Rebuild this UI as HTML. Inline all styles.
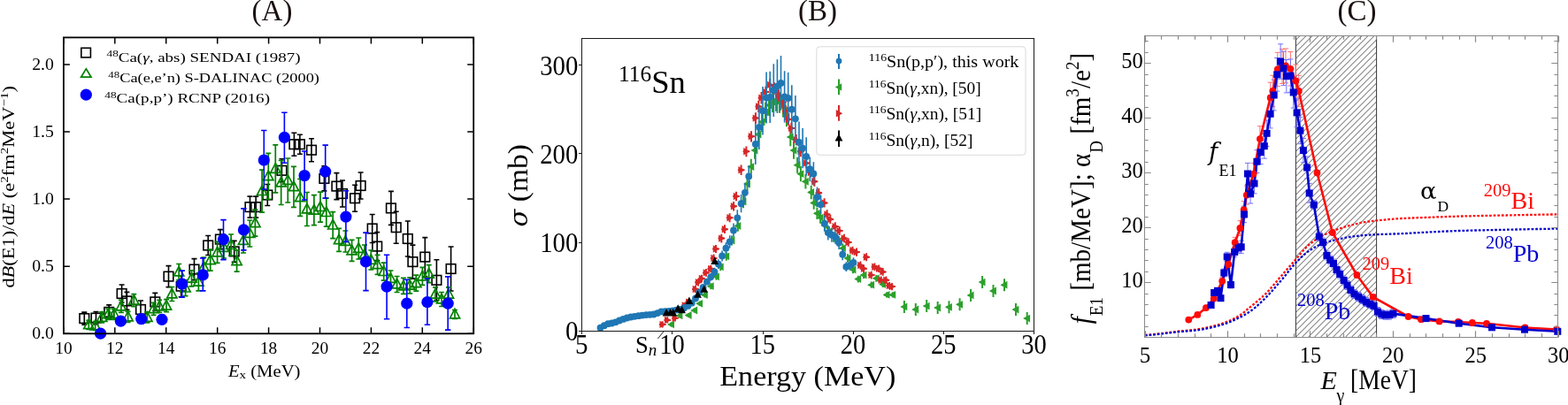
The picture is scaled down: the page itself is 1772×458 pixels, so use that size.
<!DOCTYPE html>
<html><head><meta charset="utf-8"><title>figure</title>
<style>html,body{margin:0;padding:0;background:#fff;}svg{display:block;}</style></head>
<body><svg width="1772" height="458" viewBox="0 0 1772 458">
<rect width="1772" height="458" fill="#fff"/>
<g stroke="#000" stroke-width="1.6" fill="none">
<path d="M95.3 353.1V367.1M92.3 353.1h6M92.3 367.1h6"/>
<rect x="90.0" y="354.8" width="10.6" height="10.6"/>
<path d="M108.5 352.6V366.6M105.5 352.6h6M105.5 366.6h6"/>
<rect x="103.2" y="354.3" width="10.6" height="10.6"/>
<path d="M123.2 344.9V360.9M120.2 344.9h6M120.2 360.9h6"/>
<rect x="117.9" y="347.6" width="10.6" height="10.6"/>
<path d="M137.6 322.0V342.0M134.6 322.0h6M134.6 342.0h6"/>
<rect x="132.3" y="326.7" width="10.6" height="10.6"/>
<path d="M143.4 330.4V350.4M140.4 330.4h6M140.4 350.4h6"/>
<rect x="138.1" y="335.1" width="10.6" height="10.6"/>
<path d="M159.0 340.0V360.0M156.0 340.0h6M156.0 360.0h6"/>
<rect x="153.7" y="344.7" width="10.6" height="10.6"/>
<path d="M175.3 331.4V351.4M172.3 331.4h6M172.3 351.4h6"/>
<rect x="170.0" y="336.1" width="10.6" height="10.6"/>
<path d="M190.5 300.6V324.6M187.5 300.6h6M187.5 324.6h6"/>
<rect x="185.2" y="307.3" width="10.6" height="10.6"/>
<path d="M204.7 311.7V335.7M201.7 311.7h6M201.7 335.7h6"/>
<rect x="199.4" y="318.4" width="10.6" height="10.6"/>
<path d="M219.5 292.6V316.6M216.5 292.6h6M216.5 316.6h6"/>
<rect x="214.2" y="299.3" width="10.6" height="10.6"/>
<path d="M235.2 266.5V288.5M232.2 266.5h6M232.2 288.5h6"/>
<rect x="229.9" y="272.2" width="10.6" height="10.6"/>
<path d="M248.9 259.6V281.6M245.9 259.6h6M245.9 281.6h6"/>
<rect x="243.6" y="265.3" width="10.6" height="10.6"/>
<path d="M264.7 272.4V296.4M261.7 272.4h6M261.7 296.4h6"/>
<rect x="259.4" y="279.1" width="10.6" height="10.6"/>
<path d="M282.5 222.1V246.1M279.5 222.1h6M279.5 246.1h6"/>
<rect x="277.2" y="228.8" width="10.6" height="10.6"/>
<path d="M289.2 222.1V246.1M286.2 222.1h6M286.2 246.1h6"/>
<rect x="283.9" y="228.8" width="10.6" height="10.6"/>
<path d="M302.3 208.5V232.5M299.3 208.5h6M299.3 232.5h6"/>
<rect x="297.0" y="215.2" width="10.6" height="10.6"/>
<path d="M318.5 179.8V205.8M315.5 179.8h6M315.5 205.8h6"/>
<rect x="313.2" y="187.5" width="10.6" height="10.6"/>
<path d="M332.4 150.2V176.2M329.4 150.2h6M329.4 176.2h6"/>
<rect x="327.1" y="157.9" width="10.6" height="10.6"/>
<path d="M338.9 152.2V174.2M335.9 152.2h6M335.9 174.2h6"/>
<rect x="333.6" y="157.9" width="10.6" height="10.6"/>
<path d="M352.0 156.7V182.7M349.0 156.7h6M349.0 182.7h6"/>
<rect x="346.7" y="164.4" width="10.6" height="10.6"/>
<path d="M366.4 187.9V215.9M363.4 187.9h6M363.4 215.9h6"/>
<rect x="361.1" y="196.6" width="10.6" height="10.6"/>
<path d="M380.4 195.6V225.6M377.4 195.6h6M377.4 225.6h6"/>
<rect x="375.1" y="205.3" width="10.6" height="10.6"/>
<path d="M387.0 204.0V234.0M384.0 204.0h6M384.0 234.0h6"/>
<rect x="381.7" y="213.7" width="10.6" height="10.6"/>
<path d="M401.1 209.2V239.2M398.1 209.2h6M398.1 239.2h6"/>
<rect x="395.8" y="218.9" width="10.6" height="10.6"/>
<path d="M407.6 195.0V225.0M404.6 195.0h6M404.6 225.0h6"/>
<rect x="402.3" y="204.7" width="10.6" height="10.6"/>
<path d="M420.7 242.5V274.5M417.7 242.5h6M417.7 274.5h6"/>
<rect x="415.4" y="253.2" width="10.6" height="10.6"/>
<path d="M426.2 262.6V294.6M423.2 262.6h6M423.2 294.6h6"/>
<rect x="420.9" y="273.3" width="10.6" height="10.6"/>
<path d="M441.9 216.4V254.4M438.9 216.4h6M438.9 254.4h6"/>
<rect x="436.6" y="230.1" width="10.6" height="10.6"/>
<path d="M447.7 239.2V275.2M444.7 239.2h6M444.7 275.2h6"/>
<rect x="442.4" y="251.9" width="10.6" height="10.6"/>
<path d="M460.8 250.0V290.0M457.8 250.0h6M457.8 290.0h6"/>
<rect x="455.5" y="264.7" width="10.6" height="10.6"/>
<path d="M466.4 277.1V315.1M463.4 277.1h6M463.4 315.1h6"/>
<rect x="461.1" y="290.8" width="10.6" height="10.6"/>
<path d="M480.3 268.6V312.6M477.3 268.6h6M477.3 312.6h6"/>
<rect x="475.0" y="285.3" width="10.6" height="10.6"/>
<path d="M493.4 293.8V339.8M490.4 293.8h6M490.4 339.8h6"/>
<rect x="488.1" y="311.5" width="10.6" height="10.6"/>
<path d="M509.6 279.0V329.0M506.6 279.0h6M506.6 329.0h6"/>
<rect x="504.3" y="298.7" width="10.6" height="10.6"/>
</g>
<g stroke="#008000" stroke-width="1.7" fill="none">
<path d="M100.3 362.3V372.3M97.3 362.3h6M97.3 372.3h6"/>
<path d="M100.3 361.1L105.9 371.7H94.7Z"/>
<path d="M107.6 363.5V373.5M104.6 363.5h6M104.6 373.5h6"/>
<path d="M107.6 362.3L113.2 372.9H102.0Z"/>
<path d="M115.2 352.9V364.9M112.2 352.9h6M112.2 364.9h6"/>
<path d="M115.2 352.7L120.8 363.3H109.6Z"/>
<path d="M122.4 349.3V361.3M119.4 349.3h6M119.4 361.3h6"/>
<path d="M122.4 349.1L128.0 359.7H116.8Z"/>
<path d="M128.9 349.3V361.3M125.9 349.3h6M125.9 361.3h6"/>
<path d="M128.9 349.1L134.5 359.7H123.3Z"/>
<path d="M136.9 339.4V353.4M133.9 339.4h6M133.9 353.4h6"/>
<path d="M136.9 340.2L142.5 350.8H131.3Z"/>
<path d="M144.6 352.4V364.4M141.6 352.4h6M141.6 364.4h6"/>
<path d="M144.6 352.2L150.2 362.8H139.0Z"/>
<path d="M151.3 332.7V346.7M148.3 332.7h6M148.3 346.7h6"/>
<path d="M151.3 333.5L156.9 344.1H145.7Z"/>
<path d="M166.4 352.9V364.9M163.4 352.9h6M163.4 364.9h6"/>
<path d="M166.4 352.7L172.0 363.3H160.8Z"/>
<path d="M173.6 342.3V356.3M170.6 342.3h6M170.6 356.3h6"/>
<path d="M173.6 343.1L179.2 353.7H168.0Z"/>
<path d="M180.1 339.4V353.4M177.1 339.4h6M177.1 353.4h6"/>
<path d="M180.1 340.2L185.7 350.8H174.5Z"/>
<path d="M188.0 338.7V352.7M185.0 338.7h6M185.0 352.7h6"/>
<path d="M188.0 339.5L193.6 350.1H182.4Z"/>
<path d="M194.3 324.5V340.5M191.3 324.5h6M191.3 340.5h6"/>
<path d="M194.3 326.3L199.9 336.9H188.7Z"/>
<path d="M202.2 298.5V316.5M199.2 298.5h6M199.2 316.5h6"/>
<path d="M202.2 301.3L207.8 311.9H196.6Z"/>
<path d="M209.6 316.6V334.6M206.6 316.6h6M206.6 334.6h6"/>
<path d="M209.6 319.4L215.2 330.0H204.0Z"/>
<path d="M216.5 305.8V323.8M213.5 305.8h6M213.5 323.8h6"/>
<path d="M216.5 308.6L222.1 319.2H210.9Z"/>
<path d="M224.4 308.8V328.8M221.4 308.8h6M221.4 328.8h6"/>
<path d="M224.4 312.6L230.0 323.2H218.8Z"/>
<path d="M230.3 291.0V313.0M227.3 291.0h6M227.3 313.0h6"/>
<path d="M230.3 295.8L235.9 306.4H224.7Z"/>
<path d="M237.7 282.2V306.2M234.7 282.2h6M234.7 306.2h6"/>
<path d="M237.7 288.0L243.3 298.6H232.1Z"/>
<path d="M245.6 273.4V297.4M242.6 273.4h6M242.6 297.4h6"/>
<path d="M245.6 279.2L251.2 289.8H240.0Z"/>
<path d="M253.0 268.0V292.0M250.0 268.0h6M250.0 292.0h6"/>
<path d="M253.0 273.8L258.6 284.4H247.4Z"/>
<path d="M261.1 265.0V289.0M258.1 265.0h6M258.1 289.0h6"/>
<path d="M261.1 270.8L266.7 281.4H255.5Z"/>
<path d="M267.6 283.2V307.2M264.6 283.2h6M264.6 307.2h6"/>
<path d="M267.6 289.0L273.2 299.6H262.0Z"/>
<path d="M275.0 258.0V286.0M272.0 258.0h6M272.0 286.0h6"/>
<path d="M275.0 265.8L280.6 276.4H269.4Z"/>
<path d="M282.3 249.0V279.0M279.3 249.0h6M279.3 279.0h6"/>
<path d="M282.3 257.8L287.9 268.4H276.7Z"/>
<path d="M288.4 237.2V267.2M285.4 237.2h6M285.4 267.2h6"/>
<path d="M288.4 246.0L294.0 256.6H282.8Z"/>
<path d="M296.1 192.1V240.1M293.1 192.1h6M293.1 240.1h6"/>
<path d="M296.1 209.9L301.7 220.5H290.5Z"/>
<path d="M303.3 173.3V225.3M300.3 173.3h6M300.3 225.3h6"/>
<path d="M303.3 193.1L308.9 203.7H297.7Z"/>
<path d="M311.3 163.9V217.9M308.3 163.9h6M308.3 217.9h6"/>
<path d="M311.3 184.7L316.9 195.3H305.7Z"/>
<path d="M317.7 181.5V231.5M314.7 181.5h6M314.7 231.5h6"/>
<path d="M317.7 200.3L323.3 210.9H312.1Z"/>
<path d="M325.3 179.0V229.0M322.3 179.0h6M322.3 229.0h6"/>
<path d="M325.3 197.8L330.9 208.4H319.7Z"/>
<path d="M332.0 188.3V234.3M329.0 188.3h6M329.0 234.3h6"/>
<path d="M332.0 205.1L337.6 215.7H326.4Z"/>
<path d="M339.2 202.3V244.3M336.2 202.3h6M336.2 244.3h6"/>
<path d="M339.2 217.1L344.8 227.7H333.6Z"/>
<path d="M346.9 217.5V255.5M343.9 217.5h6M343.9 255.5h6"/>
<path d="M346.9 230.3L352.5 240.9H341.3Z"/>
<path d="M354.9 220.7V254.7M351.9 220.7h6M351.9 254.7h6"/>
<path d="M354.9 231.5L360.5 242.1H349.3Z"/>
<path d="M362.0 217.1V251.1M359.0 217.1h6M359.0 251.1h6"/>
<path d="M362.0 227.9L367.6 238.5H356.4Z"/>
<path d="M368.8 224.1V256.1M365.8 224.1h6M365.8 256.1h6"/>
<path d="M368.8 233.9L374.4 244.5H363.2Z"/>
<path d="M376.2 239.6V269.6M373.2 239.6h6M373.2 269.6h6"/>
<path d="M376.2 248.4L381.8 259.0H370.6Z"/>
<path d="M383.1 258.3V284.3M380.1 258.3h6M380.1 284.3h6"/>
<path d="M383.1 265.1L388.7 275.7H377.5Z"/>
<path d="M390.4 261.0V285.0M387.4 261.0h6M387.4 285.0h6"/>
<path d="M390.4 266.8L396.0 277.4H384.8Z"/>
<path d="M397.6 271.4V295.4M394.6 271.4h6M394.6 295.4h6"/>
<path d="M397.6 277.2L403.2 287.8H392.0Z"/>
<path d="M405.3 269.0V293.0M402.3 269.0h6M402.3 293.0h6"/>
<path d="M405.3 274.8L410.9 285.4H399.7Z"/>
<path d="M412.0 277.0V299.0M409.0 277.0h6M409.0 299.0h6"/>
<path d="M412.0 281.8L417.6 292.4H406.4Z"/>
<path d="M419.3 283.0V305.0M416.3 283.0h6M416.3 305.0h6"/>
<path d="M419.3 287.8L424.9 298.4H413.7Z"/>
<path d="M426.6 288.3V310.3M423.6 288.3h6M423.6 310.3h6"/>
<path d="M426.6 293.1L432.2 303.7H421.0Z"/>
<path d="M433.7 297.1V317.1M430.7 297.1h6M430.7 317.1h6"/>
<path d="M433.7 300.9L439.3 311.5H428.1Z"/>
<path d="M441.5 306.0V324.0M438.5 306.0h6M438.5 324.0h6"/>
<path d="M441.5 308.8L447.1 319.4H435.9Z"/>
<path d="M448.6 312.5V330.5M445.6 312.5h6M445.6 330.5h6"/>
<path d="M448.6 315.3L454.2 325.9H443.0Z"/>
<path d="M455.9 314.4V332.4M452.9 314.4h6M452.9 332.4h6"/>
<path d="M455.9 317.2L461.5 327.8H450.3Z"/>
<path d="M463.2 313.8V331.8M460.2 313.8h6M460.2 331.8h6"/>
<path d="M463.2 316.6L468.8 327.2H457.6Z"/>
<path d="M470.3 311.2V329.2M467.3 311.2h6M467.3 329.2h6"/>
<path d="M470.3 314.0L475.9 324.6H464.7Z"/>
<path d="M477.4 302.4V322.4M474.4 302.4h6M474.4 322.4h6"/>
<path d="M477.4 306.2L483.0 316.8H471.8Z"/>
<path d="M484.7 299.7V319.7M481.7 299.7h6M481.7 319.7h6"/>
<path d="M484.7 303.5L490.3 314.1H479.1Z"/>
<path d="M492.0 324.8V340.8M489.0 324.8h6M489.0 340.8h6"/>
<path d="M492.0 326.6L497.6 337.2H486.4Z"/>
<path d="M499.1 330.5V346.5M496.1 330.5h6M496.1 346.5h6"/>
<path d="M499.1 332.3L504.7 342.9H493.5Z"/>
<path d="M507.0 324.8V340.8M504.0 324.8h6M504.0 340.8h6"/>
<path d="M507.0 326.6L512.6 337.2H501.4Z"/>
<path d="M514.0 350.5V360.5M511.0 350.5h6M511.0 360.5h6"/>
<path d="M514.0 349.3L519.6 359.9H508.4Z"/>
</g>
<g stroke="#0000ff" stroke-width="1.6" fill="#0000ff">
<circle cx="113.6" cy="377.2" r="6.6" stroke="none"/>
<path d="M136.4 358.2V368.2M133.2 358.2h6.4M133.2 368.2h6.4"/>
<circle cx="136.4" cy="363.2" r="6.6" stroke="none"/>
<path d="M159.7 355.6V365.6M156.5 355.6h6.4M156.5 365.6h6.4"/>
<circle cx="159.7" cy="360.6" r="6.6" stroke="none"/>
<path d="M183.0 356.3V366.3M179.8 356.3h6.4M179.8 366.3h6.4"/>
<circle cx="183.0" cy="361.3" r="6.6" stroke="none"/>
<path d="M205.7 306.1V336.1M202.5 306.1h6.4M202.5 336.1h6.4"/>
<circle cx="205.7" cy="321.1" r="6.6" stroke="none"/>
<path d="M229.3 291.9V328.9M226.1 291.9h6.4M226.1 328.9h6.4"/>
<circle cx="229.3" cy="310.9" r="6.6" stroke="none"/>
<path d="M252.5 248.6V293.6M249.3 248.6h6.4M249.3 293.6h6.4"/>
<circle cx="252.5" cy="270.6" r="6.6" stroke="none"/>
<path d="M275.4 235.9V282.9M272.2 235.9h6.4M272.2 282.9h6.4"/>
<circle cx="275.4" cy="259.9" r="6.6" stroke="none"/>
<path d="M298.3 147.5V214.0M295.1 147.5h6.4M295.1 214.0h6.4"/>
<circle cx="298.3" cy="181.0" r="6.6" stroke="none"/>
<path d="M321.4 127.3V184.3M318.2 127.3h6.4M318.2 184.3h6.4"/>
<circle cx="321.4" cy="155.3" r="6.6" stroke="none"/>
<path d="M344.1 171.0V226.0M340.9 171.0h6.4M340.9 226.0h6.4"/>
<circle cx="344.1" cy="198.5" r="6.6" stroke="none"/>
<path d="M367.7 164.1V224.1M364.5 164.1h6.4M364.5 224.1h6.4"/>
<circle cx="367.7" cy="194.1" r="6.6" stroke="none"/>
<path d="M390.9 215.8V273.4M387.7 215.8h6.4M387.7 273.4h6.4"/>
<circle cx="390.9" cy="245.1" r="6.6" stroke="none"/>
<path d="M413.5 263.1V328.6M410.3 263.1h6.4M410.3 328.6h6.4"/>
<circle cx="413.5" cy="295.9" r="6.6" stroke="none"/>
<path d="M437.1 288.3V360.8M433.9 288.3h6.4M433.9 360.8h6.4"/>
<circle cx="437.1" cy="324.1" r="6.6" stroke="none"/>
<path d="M459.8 316.3V370.5M456.6 316.3h6.4M456.6 370.5h6.4"/>
<circle cx="459.8" cy="343.2" r="6.6" stroke="none"/>
<path d="M482.9 315.0V367.3M479.7 315.0h6.4M479.7 367.3h6.4"/>
<circle cx="482.9" cy="341.7" r="6.6" stroke="none"/>
<path d="M506.2 312.9V373.1M503.0 312.9h6.4M503.0 373.1h6.4"/>
<circle cx="506.2" cy="343.2" r="6.6" stroke="none"/>
</g>
<path d="M71.9 377.3v-7M71.9 42.4v7M129.8 377.3v-7M129.8 42.4v7M187.7 377.3v-7M187.7 42.4v7M245.7 377.3v-7M245.7 42.4v7M303.6 377.3v-7M303.6 42.4v7M361.5 377.3v-7M361.5 42.4v7M419.4 377.3v-7M419.4 42.4v7M477.3 377.3v-7M477.3 42.4v7M535.3 377.3v-7M535.3 42.4v7M71.9 377.3h7M535.2 377.3h-7M71.9 301.2h7M535.2 301.2h-7M71.9 225.1h7M535.2 225.1h-7M71.9 149.0h7M535.2 149.0h-7M71.9 72.9h7M535.2 72.9h-7" stroke="#000" stroke-width="1.5" fill="none"/>
<rect x="71.9" y="42.4" width="463.30000000000007" height="334.90000000000003" fill="none" stroke="#000" stroke-width="1.8"/>
<g font-family='"Liberation Serif", "DejaVu Serif", serif' font-size="18" fill="#000"><text x="71.9" y="399.5" text-anchor="middle" textLength="19.4" lengthAdjust="spacingAndGlyphs">10</text><text x="129.8" y="399.5" text-anchor="middle" textLength="19.4" lengthAdjust="spacingAndGlyphs">12</text><text x="187.7" y="399.5" text-anchor="middle" textLength="19.4" lengthAdjust="spacingAndGlyphs">14</text><text x="245.7" y="399.5" text-anchor="middle" textLength="19.4" lengthAdjust="spacingAndGlyphs">16</text><text x="303.6" y="399.5" text-anchor="middle" textLength="19.4" lengthAdjust="spacingAndGlyphs">18</text><text x="361.5" y="399.5" text-anchor="middle" textLength="19.4" lengthAdjust="spacingAndGlyphs">20</text><text x="419.4" y="399.5" text-anchor="middle" textLength="19.4" lengthAdjust="spacingAndGlyphs">22</text><text x="477.3" y="399.5" text-anchor="middle" textLength="19.4" lengthAdjust="spacingAndGlyphs">24</text><text x="535.3" y="399.5" text-anchor="middle" textLength="19.4" lengthAdjust="spacingAndGlyphs">26</text><text x="60.8" y="383.3" text-anchor="end" textLength="24.6" lengthAdjust="spacingAndGlyphs">0.0</text><text x="60.8" y="307.2" text-anchor="end" textLength="24.6" lengthAdjust="spacingAndGlyphs">0.5</text><text x="60.8" y="231.1" text-anchor="end" textLength="24.6" lengthAdjust="spacingAndGlyphs">1.0</text><text x="60.8" y="155.0" text-anchor="end" textLength="24.6" lengthAdjust="spacingAndGlyphs">1.5</text><text x="60.8" y="78.9" text-anchor="end" textLength="24.6" lengthAdjust="spacingAndGlyphs">2.0</text></g>
<rect x="91.8" y="54.3" width="10.6" height="10.6" fill="none" stroke="#000" stroke-width="1.6"/>
<path d="M97.3 77.8L103 87.2H91.6Z" fill="none" stroke="#008000" stroke-width="1.7"/>
<circle cx="97.3" cy="107.2" r="6.6" fill="#0000ff"/>
<g font-family='"Liberation Serif", "DejaVu Serif", serif' font-size="15" fill="#000"><text x="120.5" y="69.5" textLength="219" lengthAdjust="spacingAndGlyphs"><tspan font-size="10.5" dy="-5.5">48</tspan><tspan dy="5.5">Ca(<tspan font-style="italic">γ</tspan>, abs) SENDAI (1987)</tspan></text><text x="122.3" y="93" textLength="238.7" lengthAdjust="spacingAndGlyphs"><tspan font-size="10.5" dy="-5.5">48</tspan><tspan dy="5.5">Ca(e,e’n) S-DALINAC (2000)</tspan></text><text x="118.3" y="116.3" textLength="186.7" lengthAdjust="spacingAndGlyphs"><tspan font-size="10.5" dy="-5.5">48</tspan><tspan dy="5.5">Ca(p,p’) RCNP (2016)</tspan></text></g>
<text x="258" y="425.8" textLength="81.5" lengthAdjust="spacingAndGlyphs" font-family='"Liberation Serif", "DejaVu Serif", serif' font-size="18"><tspan font-style="italic">E</tspan><tspan font-size="13" dy="2">x</tspan><tspan dy="-2"> (MeV)</tspan></text>
<text transform="translate(16.4,325.6) rotate(-90)" textLength="228.6" lengthAdjust="spacingAndGlyphs" font-family='"Liberation Serif", "DejaVu Serif", serif' font-size="18.5">d<tspan font-style="italic">B</tspan>(E1)/d<tspan font-style="italic">E</tspan> (e<tspan font-size="12.5" dy="-7">2</tspan><tspan dy="7">fm</tspan><tspan font-size="12.5" dy="-7">2</tspan><tspan dy="7">MeV</tspan><tspan font-size="12.5" dy="-7">−1</tspan><tspan dy="7">)</tspan></text>
<text x="307.5" y="22.9" text-anchor="middle" font-family='"Liberation Serif", "DejaVu Serif", serif' font-size="33" fill="#1a1010">(A)</text>
<path d="M758.6 364.4V369.4M755.6 366.9h6M768.0 354.4V359.4M765.0 356.9h6M778.2 354.0V359.0M775.2 356.5h6M784.8 348.5V353.5M781.8 351.0h6M790.7 340.6V346.0M787.7 343.3h6M796.4 330.4V336.6M793.4 333.5h6M803.3 320.2V327.2M800.3 323.7h6M809.5 308.9V316.7M806.5 312.8h6M814.3 297.4V306.2M811.3 301.8h6M820.8 284.9V294.7M817.8 289.8h6M827.0 266.4V277.6M824.0 272.0h6M833.9 249.3V261.7M830.9 255.5h6M840.0 220.7V235.3M837.0 228.0h6M844.5 199.9V216.1M841.5 208.0h6M848.8 179.7V197.5M845.8 188.6h6M853.0 160.3V179.7M850.0 170.0h6M857.0 141.6V162.4M854.0 152.0h6M861.0 127.1V148.9M858.0 138.0h6M865.0 115.6V138.4M862.0 127.0h6M869.0 107.3V130.7M866.0 119.0h6M872.9 103.1V126.9M869.9 115.0h6M876.9 102.1V125.9M873.9 114.0h6M881.0 104.2V127.8M878.0 116.0h6M885.0 109.4V132.6M882.0 121.0h6M889.0 120.8V143.2M886.0 132.0h6M893.3 144.6V165.2M890.3 154.9h6M897.0 160.3V179.7M894.0 170.0h6M901.1 177.7V195.7M898.1 186.7h6M904.9 188.1V205.3M901.9 196.7h6M910.4 197.1V213.5M907.4 205.3h6M916.7 209.7V225.3M913.7 217.5h6M919.7 222.1V236.7M916.7 229.4h6M923.4 234.5V248.1M920.4 241.3h6M927.1 239.5V252.7M924.1 246.1h6M932.0 248.7V261.3M929.0 255.0h6M937.0 256.0V268.0M934.0 262.0h6M942.0 262.3V273.7M939.0 268.0h6M947.0 267.5V278.5M944.0 273.0h6M952.4 275.5V285.9M949.4 280.7h6M958.0 287.2V296.8M955.0 292.0h6M964.0 300.7V309.3M961.0 305.0h6M969.8 311.8V319.4M966.8 315.6h6M976.1 307.1V315.1M973.1 311.1h6M984.7 318.6V325.8M981.7 322.2h6M990.3 310.9V318.7M987.3 314.8h6M997.7 317.9V325.1M994.7 321.5h6M1002.1 330.3V336.5M999.1 333.4h6M1008.8 330.3V336.5M1005.8 333.4h6M1021.9 339.9V353.9M1018.9 346.9h6M1034.8 343.0V357.0M1031.8 350.0h6M1047.2 339.1V353.1M1044.2 346.1h6M1059.7 341.0V355.0M1056.7 348.0h6M1072.5 340.3V354.3M1069.5 347.3h6M1084.6 337.3V351.3M1081.6 344.3h6M1097.1 326.9V340.9M1094.1 333.9h6M1110.1 312.1V326.1M1107.1 319.1h6M1122.5 322.0V336.0M1119.5 329.0h6M1135.0 315.2V329.2M1132.0 322.2h6M1148.0 343.1V357.1M1145.0 350.1h6M1160.7 353.1V367.1M1157.7 360.1h6" stroke="#2ca02c" stroke-width="2" fill="none"/>
<path d="M754.0 366.9L762.0 362.5V371.3ZM763.4 356.9L771.4 352.5V361.3ZM773.6 356.5L781.6 352.1V360.9ZM780.2 351.0L788.2 346.6V355.4ZM786.1 343.3L794.1 338.9V347.7ZM791.8 333.5L799.8 329.1V337.9ZM798.7 323.7L806.7 319.3V328.1ZM804.9 312.8L812.9 308.4V317.2ZM809.7 301.8L817.7 297.4V306.2ZM816.2 289.8L824.2 285.4V294.2ZM822.4 272.0L830.4 267.6V276.4ZM829.3 255.5L837.3 251.1V259.9ZM835.4 228.0L843.4 223.6V232.4ZM839.9 208.0L847.9 203.6V212.4ZM844.2 188.6L852.2 184.2V193.0ZM848.4 170.0L856.4 165.6V174.4ZM852.4 152.0L860.4 147.6V156.4ZM856.4 138.0L864.4 133.6V142.4ZM860.4 127.0L868.4 122.6V131.4ZM864.4 119.0L872.4 114.6V123.4ZM868.3 115.0L876.3 110.6V119.4ZM872.3 114.0L880.3 109.6V118.4ZM876.4 116.0L884.4 111.6V120.4ZM880.4 121.0L888.4 116.6V125.4ZM884.4 132.0L892.4 127.6V136.4ZM888.7 154.9L896.7 150.5V159.3ZM892.4 170.0L900.4 165.6V174.4ZM896.5 186.7L904.5 182.3V191.1ZM900.3 196.7L908.3 192.3V201.1ZM905.8 205.3L913.8 200.9V209.7ZM912.1 217.5L920.1 213.1V221.9ZM915.1 229.4L923.1 225.0V233.8ZM918.8 241.3L926.8 236.9V245.7ZM922.5 246.1L930.5 241.7V250.5ZM927.4 255.0L935.4 250.6V259.4ZM932.4 262.0L940.4 257.6V266.4ZM937.4 268.0L945.4 263.6V272.4ZM942.4 273.0L950.4 268.6V277.4ZM947.8 280.7L955.8 276.3V285.1ZM953.4 292.0L961.4 287.6V296.4ZM959.4 305.0L967.4 300.6V309.4ZM965.2 315.6L973.2 311.2V320.0ZM971.5 311.1L979.5 306.7V315.5ZM980.1 322.2L988.1 317.8V326.6ZM985.7 314.8L993.7 310.4V319.2ZM993.1 321.5L1001.1 317.1V325.9ZM997.5 333.4L1005.5 329.0V337.8ZM1004.2 333.4L1012.2 329.0V337.8ZM1017.3 346.9L1025.3 342.5V351.3ZM1030.2 350.0L1038.2 345.6V354.4ZM1042.6 346.1L1050.6 341.7V350.5ZM1055.1 348.0L1063.1 343.6V352.4ZM1067.9 347.3L1075.9 342.9V351.7ZM1080.0 344.3L1088.0 339.9V348.7ZM1092.5 333.9L1100.5 329.5V338.3ZM1105.5 319.1L1113.5 314.7V323.5ZM1117.9 329.0L1125.9 324.6V333.4ZM1130.4 322.2L1138.4 317.8V326.6ZM1143.4 350.1L1151.4 345.7V354.5ZM1156.1 360.1L1164.1 355.7V364.5Z" fill="#2ca02c"/>
<path d="M748.7 363.3V370.5M744.9 366.9h7.6M754.2 358.3V365.5M750.4 361.9h7.6M762.9 356.0V363.4M759.1 359.7h7.6M769.4 346.2V353.8M765.6 350.0h7.6M773.9 341.7V349.3M770.1 345.5h7.6M778.2 337.7V345.5M774.4 341.6h7.6M785.9 322.9V331.1M782.1 327.0h7.6M789.1 315.1V323.5M785.3 319.3h7.6M793.0 310.8V319.2M789.2 315.0h7.6M797.9 304.1V312.7M794.1 308.4h7.6M803.3 299.7V308.3M799.5 304.0h7.6M806.6 287.5V296.5M802.8 292.0h7.6M809.0 276.9V286.1M805.2 281.5h7.6M815.3 264.8V274.4M811.5 269.6h7.6M819.0 254.3V264.1M815.2 259.2h7.6M824.6 241.2V251.2M820.8 246.2h7.6M829.1 228.0V238.4M825.3 233.2h7.6M832.0 216.7V227.3M828.2 222.0h7.6M837.6 186.6V198.0M833.8 192.3h7.6M843.4 165.4V177.2M839.6 171.3h7.6M849.0 148.2V160.4M845.2 154.3h7.6M853.9 127.2V140.0M850.1 133.6h7.6M857.2 114.0V127.0M853.4 120.5h7.6M860.5 104.0V117.4M856.7 110.7h7.6M865.4 97.4V110.8M861.6 104.1h7.6M870.3 89.1V102.7M866.5 95.9h7.6M875.0 93.2V106.8M871.2 100.0h7.6M880.0 101.3V114.7M876.2 108.0h7.6M885.0 109.0V122.2M881.2 115.6h7.6M887.7 118.9V131.9M883.9 125.4h7.6M891.0 128.6V141.4M887.2 135.0h7.6M894.3 138.8V151.2M890.5 145.0h7.6M899.8 152.1V164.3M896.0 158.2h7.6M904.8 165.4V177.2M901.0 171.3h7.6M911.3 178.6V190.2M907.5 184.4h7.6M916.0 189.4V200.6M912.2 195.0h7.6M920.4 199.8V210.8M916.6 205.3h7.6M925.3 212.9V223.7M921.5 218.3h7.6M931.6 224.2V234.6M927.8 229.4h7.6M934.6 237.3V247.5M930.8 242.4h7.6M938.3 243.0V253.0M934.5 248.0h7.6M943.8 251.2V261.0M940.0 256.1h7.6M948.7 256.1V265.9M944.9 261.0h7.6M953.9 264.7V274.3M950.1 269.5h7.6M958.7 269.3V278.7M954.9 274.0h7.6M963.5 278.7V287.9M959.7 283.3h7.6M968.0 280.5V289.7M964.2 285.1h7.6M972.4 295.6V304.4M968.6 300.0h7.6M976.1 299.4V308.0M972.3 303.7h7.6M979.1 286.2V295.2M975.3 290.7h7.6M984.7 306.8V315.4M980.9 311.1h7.6M988.4 297.4V306.2M984.6 301.8h7.6M993.2 299.4V308.0M989.4 303.7h7.6M995.8 312.5V320.9M992.0 316.7h7.6M997.7 303.1V311.7M993.9 307.4h7.6M1001.4 312.5V320.9M997.6 316.7h7.6M1005.1 318.9V327.1M1001.3 323.0h7.6M1008.1 320.0V328.2M1004.3 324.1h7.6" stroke="#d62728" stroke-width="2" fill="none"/>
<path d="M752.9 366.9L745.5 362.7V371.1ZM758.4 361.9L751.0 357.7V366.1ZM767.1 359.7L759.7 355.5V363.9ZM773.6 350.0L766.2 345.8V354.2ZM778.1 345.5L770.7 341.3V349.7ZM782.4 341.6L775.0 337.4V345.8ZM790.1 327.0L782.7 322.8V331.2ZM793.3 319.3L785.9 315.1V323.5ZM797.2 315.0L789.8 310.8V319.2ZM802.1 308.4L794.7 304.2V312.6ZM807.5 304.0L800.1 299.8V308.2ZM810.8 292.0L803.4 287.8V296.2ZM813.2 281.5L805.8 277.3V285.7ZM819.5 269.6L812.1 265.4V273.8ZM823.2 259.2L815.8 255.0V263.4ZM828.8 246.2L821.4 242.0V250.4ZM833.3 233.2L825.9 229.0V237.4ZM836.2 222.0L828.8 217.8V226.2ZM841.8 192.3L834.4 188.1V196.5ZM847.6 171.3L840.2 167.1V175.5ZM853.2 154.3L845.8 150.1V158.5ZM858.1 133.6L850.7 129.4V137.8ZM861.4 120.5L854.0 116.3V124.7ZM864.7 110.7L857.3 106.5V114.9ZM869.6 104.1L862.2 99.9V108.3ZM874.5 95.9L867.1 91.7V100.1ZM879.2 100.0L871.8 95.8V104.2ZM884.2 108.0L876.8 103.8V112.2ZM889.2 115.6L881.8 111.4V119.8ZM891.9 125.4L884.5 121.2V129.6ZM895.2 135.0L887.8 130.8V139.2ZM898.5 145.0L891.1 140.8V149.2ZM904.0 158.2L896.6 154.0V162.4ZM909.0 171.3L901.6 167.1V175.5ZM915.5 184.4L908.1 180.2V188.6ZM920.2 195.0L912.8 190.8V199.2ZM924.6 205.3L917.2 201.1V209.5ZM929.5 218.3L922.1 214.1V222.5ZM935.8 229.4L928.4 225.2V233.6ZM938.8 242.4L931.4 238.2V246.6ZM942.5 248.0L935.1 243.8V252.2ZM948.0 256.1L940.6 251.9V260.3ZM952.9 261.0L945.5 256.8V265.2ZM958.1 269.5L950.7 265.3V273.7ZM962.9 274.0L955.5 269.8V278.2ZM967.7 283.3L960.3 279.1V287.5ZM972.2 285.1L964.8 280.9V289.3ZM976.6 300.0L969.2 295.8V304.2ZM980.3 303.7L972.9 299.5V307.9ZM983.3 290.7L975.9 286.5V294.9ZM988.9 311.1L981.5 306.9V315.3ZM992.6 301.8L985.2 297.6V306.0ZM997.4 303.7L990.0 299.5V307.9ZM1000.0 316.7L992.6 312.5V320.9ZM1001.9 307.4L994.5 303.2V311.6ZM1005.6 316.7L998.2 312.5V320.9ZM1009.3 323.0L1001.9 318.8V327.2ZM1012.3 324.1L1004.9 319.9V328.3Z" fill="#d62728"/>
<path d="M790.3 328.6V332.1M794.6 323.1V327.0M798.9 316.5V320.9M803.2 309.1V317.6M807.5 302.8V312.2M811.8 293.3V303.9M816.1 283.5V295.4M820.4 274.2V287.2M824.7 266.3V280.4M829.0 252.6V268.4M833.3 237.3V255.2M837.6 220.1V240.3M841.9 206.8V228.7M846.2 187.3V211.7M853.8 139.7V186.1M857.9 118.5V169.1M862.0 97.9V152.6M866.1 81.6V139.6M870.2 80.8V138.9M874.3 72.2V132.1M878.4 67.2V128.0M882.5 63.1V124.7M886.6 80.2V138.4M890.7 82.0V139.9M894.8 96.2V151.2M898.9 108.0V160.7M903.0 137.4V184.3M907.1 144.9V190.3M911.2 155.3V198.6M915.3 177.4V204.9M919.4 183.2V209.8M923.5 211.5V234.1M927.6 220.6V242.0M931.7 243.6V261.8M935.8 254.8V271.4M939.9 257.6V273.8M944.0 259.9V275.8M948.1 267.1V282.1M952.2 281.3V294.2M956.3 296.3V307.1M960.4 294.5V305.6M964.5 291.2V302.8" stroke="#1f77b4" stroke-width="1.6" fill="none"/>
<g fill="#1f77b4"><circle cx="678.5" cy="370.7" r="3.9"/><circle cx="682.8" cy="368.2" r="3.9"/><circle cx="687.1" cy="366.2" r="3.9"/><circle cx="691.4" cy="365.5" r="3.9"/><circle cx="695.7" cy="364.3" r="3.9"/><circle cx="700.0" cy="362.5" r="3.9"/><circle cx="704.3" cy="360.9" r="3.9"/><circle cx="708.6" cy="359.5" r="3.9"/><circle cx="712.9" cy="358.5" r="3.9"/><circle cx="717.2" cy="357.8" r="3.9"/><circle cx="721.5" cy="357.2" r="3.9"/><circle cx="725.8" cy="356.6" r="3.9"/><circle cx="730.1" cy="356.1" r="3.9"/><circle cx="734.4" cy="355.8" r="3.9"/><circle cx="738.7" cy="355.5" r="3.9"/><circle cx="743.0" cy="354.1" r="3.9"/><circle cx="747.3" cy="352.4" r="3.9"/><circle cx="751.6" cy="352.1" r="3.9"/><circle cx="755.9" cy="351.8" r="3.9"/><circle cx="760.2" cy="351.5" r="3.9"/><circle cx="764.5" cy="350.6" r="3.9"/><circle cx="768.8" cy="349.8" r="3.9"/><circle cx="773.1" cy="348.2" r="3.9"/><circle cx="777.4" cy="345.9" r="3.9"/><circle cx="781.7" cy="342.7" r="3.9"/><circle cx="786.0" cy="337.5" r="3.9"/><circle cx="790.3" cy="330.4" r="3.9"/><circle cx="794.6" cy="325.0" r="3.9"/><circle cx="798.9" cy="318.7" r="3.9"/><circle cx="803.2" cy="313.3" r="3.9"/><circle cx="807.5" cy="307.5" r="3.9"/><circle cx="811.8" cy="298.6" r="3.9"/><circle cx="816.1" cy="289.4" r="3.9"/><circle cx="820.4" cy="280.7" r="3.9"/><circle cx="824.7" cy="273.4" r="3.9"/><circle cx="829.0" cy="260.5" r="3.9"/><circle cx="833.3" cy="246.3" r="3.9"/><circle cx="837.6" cy="230.2" r="3.9"/><circle cx="841.9" cy="217.8" r="3.9"/><circle cx="846.2" cy="199.5" r="3.9"/><circle cx="853.8" cy="162.9" r="3.9"/><circle cx="857.9" cy="143.8" r="3.9"/><circle cx="862.0" cy="125.2" r="3.9"/><circle cx="866.1" cy="110.6" r="3.9"/><circle cx="870.2" cy="109.8" r="3.9"/><circle cx="874.3" cy="102.2" r="3.9"/><circle cx="878.4" cy="97.6" r="3.9"/><circle cx="882.5" cy="93.9" r="3.9"/><circle cx="886.6" cy="109.3" r="3.9"/><circle cx="890.7" cy="111.0" r="3.9"/><circle cx="894.8" cy="123.7" r="3.9"/><circle cx="898.9" cy="134.3" r="3.9"/><circle cx="903.0" cy="160.9" r="3.9"/><circle cx="907.1" cy="167.6" r="3.9"/><circle cx="911.2" cy="177.0" r="3.9"/><circle cx="915.3" cy="191.2" r="3.9"/><circle cx="919.4" cy="196.5" r="3.9"/><circle cx="923.5" cy="222.8" r="3.9"/><circle cx="927.6" cy="231.3" r="3.9"/><circle cx="931.7" cy="252.7" r="3.9"/><circle cx="935.8" cy="263.1" r="3.9"/><circle cx="939.9" cy="265.7" r="3.9"/><circle cx="944.0" cy="267.9" r="3.9"/><circle cx="948.1" cy="274.6" r="3.9"/><circle cx="952.2" cy="287.7" r="3.9"/><circle cx="956.3" cy="301.7" r="3.9"/><circle cx="960.4" cy="300.1" r="3.9"/><circle cx="964.5" cy="297.0" r="3.9"/></g>
<path d="M753.1 349.1L757.5 357.5H748.7ZM757.5 349.1L761.9 357.5H753.1ZM760.8 349.1L765.2 357.5H756.4ZM766.2 344.3L770.6 352.7H761.8ZM770.6 345.8L775.0 354.2H766.2ZM778.9 335.5L783.3 343.9H774.5ZM788.5 328.3L792.9 336.7H784.1ZM795.7 322.4L800.1 330.8H791.3ZM807.7 290.5L812.1 298.9H803.3Z" fill="#000"/>
<rect x="657.5" y="43.5" width="511.0" height="331.0" fill="none" stroke="#1a1a1a" stroke-width="1"/>
<path d="M657.5 374.5v3.5M759.5 374.5v3.5M862.5 374.5v3.5M964.5 374.5v3.5M1066.5 374.5v3.5M1168.5 374.5v3.5M657.5 374.5h-3.5M657.5 274.5h-3.5M657.5 173.5h-3.5M657.5 73.5h-3.5" stroke="#1a1a1a" stroke-width="1" fill="none"/>
<path d="M743.4 383L750 374.8" stroke="#222" stroke-width="1" fill="none"/>
<g font-family='"Liberation Serif", "DejaVu Serif", serif' font-size="31.5" fill="#000"><text x="657.2" y="399.6" text-anchor="middle" textLength="14.5" lengthAdjust="spacingAndGlyphs">5</text><text x="759.5" y="399.6" text-anchor="middle" textLength="28.5" lengthAdjust="spacingAndGlyphs">10</text><text x="861.7" y="399.6" text-anchor="middle" textLength="28.5" lengthAdjust="spacingAndGlyphs">15</text><text x="964.0" y="399.6" text-anchor="middle" textLength="28.5" lengthAdjust="spacingAndGlyphs">20</text><text x="1066.2" y="399.6" text-anchor="middle" textLength="28.5" lengthAdjust="spacingAndGlyphs">25</text><text x="1168.5" y="399.6" text-anchor="middle" textLength="28.5" lengthAdjust="spacingAndGlyphs">30</text><text x="653.4" y="385.4" text-anchor="end" textLength="14.5" lengthAdjust="spacingAndGlyphs">0</text><text x="653.4" y="285.1" text-anchor="end" textLength="43.2" lengthAdjust="spacingAndGlyphs">100</text><text x="653.4" y="184.8" text-anchor="end" textLength="43.2" lengthAdjust="spacingAndGlyphs">200</text><text x="653.4" y="84.5" text-anchor="end" textLength="43.2" lengthAdjust="spacingAndGlyphs">300</text></g>
<text x="718" y="399.2" font-family='"Liberation Serif", "DejaVu Serif", serif' font-size="26.5">S<tspan font-style="italic" font-size="19" dy="3">n</tspan></text>
<text x="813.3" y="436" textLength="199" lengthAdjust="spacingAndGlyphs" font-family='"Liberation Serif", "DejaVu Serif", serif' font-size="32.5">Energy (MeV)</text>
<text transform="translate(595.6,256.5) rotate(-90)" textLength="93.5" lengthAdjust="spacingAndGlyphs" font-family='"Liberation Serif", "DejaVu Serif", serif' font-size="31"><tspan font-style="italic" font-family='"DejaVu Serif", serif' font-size="27">σ</tspan> (mb)</text>
<text x="699" y="104.5" textLength="75.8" lengthAdjust="spacingAndGlyphs" font-family='"Liberation Serif", "DejaVu Serif", serif' font-size="36"><tspan font-size="25" dy="-13">116</tspan><tspan dy="13">Sn</tspan></text>
<rect x="922.8" y="52.8" width="236.2" height="122.5" rx="3.5" fill="#fff" fill-opacity="0.8" stroke="#d9d9d9" stroke-width="1"/>
<path d="M948 60.9V78.1" stroke="#1f77b4" stroke-width="2"/><circle cx="948" cy="69.1" r="3.4" fill="#1f77b4"/>
<path d="M948 89.5V107.3" stroke="#2ca02c" stroke-width="2"/><path d="M943.8 98.5L951.2 94.3V102.7Z" fill="#2ca02c"/>
<path d="M948 119V136.7" stroke="#d62728" stroke-width="2"/><path d="M952.2 128.3L944.8 124.1V132.5Z" fill="#d62728"/>
<path d="M948 147.6V165.9" stroke="#000" stroke-width="2"/><path d="M948 151.2L952.4 159.6H943.6Z" fill="#000"/>
<text x="981.8" y="76.0" textLength="169.6" lengthAdjust="spacingAndGlyphs" font-family='"Liberation Serif", "DejaVu Serif", serif' font-size="19.5"><tspan font-size="13.5" dy="-7">116</tspan><tspan dy="7">Sn(p,p′), this work</tspan></text>
<text x="981.8" y="105.7" textLength="126.8" lengthAdjust="spacingAndGlyphs" font-family='"Liberation Serif", "DejaVu Serif", serif' font-size="19.5"><tspan font-size="13.5" dy="-7">116</tspan><tspan dy="7">Sn(<tspan font-style="italic">γ</tspan>,xn), [50]</tspan></text>
<text x="981.8" y="135.3" textLength="127.4" lengthAdjust="spacingAndGlyphs" font-family='"Liberation Serif", "DejaVu Serif", serif' font-size="19.5"><tspan font-size="13.5" dy="-7">116</tspan><tspan dy="7">Sn(<tspan font-style="italic">γ</tspan>,xn), [51]</tspan></text>
<text x="981.8" y="164.7" textLength="117.6" lengthAdjust="spacingAndGlyphs" font-family='"Liberation Serif", "DejaVu Serif", serif' font-size="19.5"><tspan font-size="13.5" dy="-7">116</tspan><tspan dy="7">Sn(<tspan font-style="italic">γ</tspan>,n), [52]</tspan></text>
<text x="924" y="22.9" text-anchor="middle" font-family='"Liberation Serif", "DejaVu Serif", serif' font-size="33" fill="#1a1010">(B)</text>
<defs><clipPath id="hc"><rect x="1464.4" y="40.2" width="91.2" height="341"/></clipPath></defs>
<path clip-path="url(#hc)" d="M1044.4 381.2L1385.4 40.2M1051.4 381.2L1392.4 40.2M1058.4 381.2L1399.4 40.2M1065.4 381.2L1406.4 40.2M1072.4 381.2L1413.4 40.2M1079.4 381.2L1420.4 40.2M1086.4 381.2L1427.4 40.2M1093.4 381.2L1434.4 40.2M1100.4 381.2L1441.4 40.2M1107.4 381.2L1448.4 40.2M1114.4 381.2L1455.4 40.2M1121.4 381.2L1462.4 40.2M1128.4 381.2L1469.4 40.2M1135.4 381.2L1476.4 40.2M1142.4 381.2L1483.4 40.2M1149.4 381.2L1490.4 40.2M1156.4 381.2L1497.4 40.2M1163.4 381.2L1504.4 40.2M1170.4 381.2L1511.4 40.2M1177.4 381.2L1518.4 40.2M1184.4 381.2L1525.4 40.2M1191.4 381.2L1532.4 40.2M1198.4 381.2L1539.4 40.2M1205.4 381.2L1546.4 40.2M1212.4 381.2L1553.4 40.2M1219.4 381.2L1560.4 40.2M1226.4 381.2L1567.4 40.2M1233.4 381.2L1574.4 40.2M1240.4 381.2L1581.4 40.2M1247.4 381.2L1588.4 40.2M1254.4 381.2L1595.4 40.2M1261.4 381.2L1602.4 40.2M1268.4 381.2L1609.4 40.2M1275.4 381.2L1616.4 40.2M1282.4 381.2L1623.4 40.2M1289.4 381.2L1630.4 40.2M1296.4 381.2L1637.4 40.2M1303.4 381.2L1644.4 40.2M1310.4 381.2L1651.4 40.2M1317.4 381.2L1658.4 40.2M1324.4 381.2L1665.4 40.2M1331.4 381.2L1672.4 40.2M1338.4 381.2L1679.4 40.2M1345.4 381.2L1686.4 40.2M1352.4 381.2L1693.4 40.2M1359.4 381.2L1700.4 40.2M1366.4 381.2L1707.4 40.2M1373.4 381.2L1714.4 40.2M1380.4 381.2L1721.4 40.2M1387.4 381.2L1728.4 40.2M1394.4 381.2L1735.4 40.2M1401.4 381.2L1742.4 40.2M1408.4 381.2L1749.4 40.2M1415.4 381.2L1756.4 40.2M1422.4 381.2L1763.4 40.2M1429.4 381.2L1770.4 40.2M1436.4 381.2L1777.4 40.2M1443.4 381.2L1784.4 40.2M1450.4 381.2L1791.4 40.2M1457.4 381.2L1798.4 40.2M1464.4 381.2L1805.4 40.2M1471.4 381.2L1812.4 40.2M1478.4 381.2L1819.4 40.2M1485.4 381.2L1826.4 40.2M1492.4 381.2L1833.4 40.2M1499.4 381.2L1840.4 40.2M1506.4 381.2L1847.4 40.2M1513.4 381.2L1854.4 40.2M1520.4 381.2L1861.4 40.2M1527.4 381.2L1868.4 40.2M1534.4 381.2L1875.4 40.2M1541.4 381.2L1882.4 40.2M1548.4 381.2L1889.4 40.2M1555.4 381.2L1896.4 40.2M1562.4 381.2L1903.4 40.2M1569.4 381.2L1910.4 40.2M1576.4 381.2L1917.4 40.2M1583.4 381.2L1924.4 40.2M1590.4 381.2L1931.4 40.2M1597.4 381.2L1938.4 40.2" stroke="#4a4a4a" stroke-width="0.95" fill="none"/>
<path d="M1464.4 40.2V381.2M1555.6 40.2V381.2" stroke="#333" stroke-width="1" fill="none"/>
<path d="M1294.0 379.0L1295.6 378.9L1297.1 378.7L1298.7 378.6L1300.2 378.4L1301.8 378.2L1303.4 378.1L1304.9 377.9L1306.5 377.8L1308.0 377.6L1309.6 377.4L1311.1 377.3L1312.7 377.1L1314.3 376.9L1315.8 376.7L1317.4 376.5L1318.9 376.3L1320.5 376.1L1322.1 375.9L1323.6 375.7L1325.2 375.5L1326.7 375.3L1328.3 375.1L1329.8 374.9L1331.4 374.7L1333.0 374.5L1334.5 374.4L1336.1 374.2L1337.6 374.1L1339.2 373.9L1340.8 373.8L1342.3 373.6L1343.9 373.5L1345.4 373.3L1347.0 373.1L1348.5 373.0L1350.1 372.8L1351.7 372.6L1353.2 372.4L1354.8 372.1L1356.3 371.9L1357.9 371.6L1359.5 371.3L1361.0 371.0L1362.6 370.7L1364.1 370.4L1365.7 370.0L1367.3 369.7L1368.8 369.3L1370.4 369.0L1371.9 368.6L1373.5 368.2L1375.0 367.8L1376.6 367.3L1378.2 366.8L1379.7 366.3L1381.3 365.8L1382.8 365.3L1384.4 364.7L1386.0 364.1L1387.5 363.5L1389.1 362.9L1390.6 362.2L1392.2 361.5L1393.7 360.7L1395.3 359.9L1396.9 359.1L1398.4 358.2L1400.0 357.3L1401.5 356.3L1403.1 355.2L1404.7 354.0L1406.2 352.8L1407.8 351.5L1409.3 350.2L1410.9 348.9L1412.4 347.6L1414.0 346.3L1415.6 345.0L1417.1 343.8L1418.7 342.5L1420.2 341.2L1421.8 339.9L1423.4 338.5L1424.9 337.2L1426.5 335.8L1428.0 334.3L1429.6 332.9L1431.2 331.4L1432.7 329.8L1434.3 328.1L1435.8 326.3L1437.4 324.6L1438.9 322.7L1440.5 320.9L1442.1 319.0L1443.6 317.2L1445.2 315.3L1446.7 313.5L1448.3 311.7L1449.9 309.9L1451.4 308.1L1453.0 306.3L1454.5 304.5L1456.1 302.8L1457.6 301.0L1459.2 299.2L1460.8 297.4L1462.3 295.6L1463.9 293.9L1465.4 292.1L1467.0 290.2L1468.6 288.4L1470.1 286.5L1471.7 284.6L1473.2 282.8L1474.8 281.1L1476.3 279.5L1477.9 278.1L1479.5 276.7L1481.0 275.5L1482.6 274.2L1484.1 273.1L1485.7 271.9L1487.3 270.9L1488.8 269.8L1490.4 268.8L1491.9 267.9L1493.5 267.0L1495.1 266.2L1496.6 265.4L1498.2 264.7L1499.7 263.9L1501.3 263.3L1502.8 262.6L1504.4 261.9L1506.0 261.3L1507.5 260.7L1509.1 260.2L1510.6 259.6L1512.2 259.0L1513.8 258.5L1515.3 258.0L1516.9 257.5L1518.4 257.0L1520.0 256.5L1521.5 256.1L1523.1 255.6L1524.7 255.2L1526.2 254.8L1527.8 254.4L1529.3 254.0L1530.9 253.5L1532.5 253.1L1534.0 252.8L1535.6 252.4L1537.1 252.0L1538.7 251.7L1540.2 251.5L1541.8 251.2L1543.4 251.0L1544.9 250.7L1546.5 250.5L1548.0 250.3L1549.6 250.1L1551.2 249.9L1552.7 249.8L1554.3 249.6L1555.8 249.4L1557.4 249.3L1558.9 249.1L1560.5 248.9L1562.1 248.8L1563.6 248.6L1565.2 248.5L1566.7 248.3L1568.3 248.2L1569.9 248.0L1571.4 247.9L1573.0 247.8L1574.5 247.6L1576.1 247.5L1577.7 247.4L1579.2 247.3L1580.8 247.2L1582.3 247.1L1583.9 247.0L1585.4 247.0L1587.0 246.9L1588.6 246.8L1590.1 246.7L1591.7 246.7L1593.2 246.6L1594.8 246.5L1596.4 246.5L1597.9 246.4L1599.5 246.4L1601.0 246.3L1602.6 246.2L1604.1 246.2L1605.7 246.1L1607.3 246.1L1608.8 246.0L1610.4 246.0L1611.9 245.9L1613.5 245.9L1615.1 245.8L1616.6 245.7L1618.2 245.7L1619.7 245.6L1621.3 245.6L1622.8 245.5L1624.4 245.4L1626.0 245.4L1627.5 245.3L1629.1 245.3L1630.6 245.2L1632.2 245.1L1633.8 245.1L1635.3 245.0L1636.9 245.0L1638.4 244.9L1640.0 244.9L1641.6 244.8L1643.1 244.8L1644.7 244.7L1646.2 244.7L1647.8 244.6L1649.3 244.6L1650.9 244.5L1652.5 244.5L1654.0 244.5L1655.6 244.4L1657.1 244.4L1658.7 244.3L1660.3 244.3L1661.8 244.3L1663.4 244.2L1664.9 244.2L1666.5 244.2L1668.0 244.1L1669.6 244.1L1671.2 244.1L1672.7 244.0L1674.3 244.0L1675.8 244.0L1677.4 243.9L1679.0 243.9L1680.5 243.9L1682.1 243.8L1683.6 243.8L1685.2 243.8L1686.7 243.8L1688.3 243.7L1689.9 243.7L1691.4 243.7L1693.0 243.6L1694.5 243.6L1696.1 243.6L1697.7 243.5L1699.2 243.5L1700.8 243.5L1702.3 243.5L1703.9 243.4L1705.5 243.4L1707.0 243.4L1708.6 243.3L1710.1 243.3L1711.7 243.3L1713.2 243.2L1714.8 243.2L1716.4 243.2L1717.9 243.2L1719.5 243.1L1721.0 243.1L1722.6 243.1L1724.2 243.0L1725.7 243.0L1727.3 243.0L1728.8 242.9L1730.4 242.9L1731.9 242.9L1733.5 242.9L1735.1 242.8L1736.6 242.8L1738.2 242.8L1739.7 242.7L1741.3 242.7L1742.9 242.7L1744.4 242.7L1746.0 242.6L1747.5 242.6L1749.1 242.6L1750.6 242.6L1752.2 242.5L1753.8 242.5L1755.3 242.5L1756.9 242.5L1758.4 242.4L1760.0 242.4" fill="none" stroke="#ff0a0a" stroke-width="2.3" stroke-dasharray="2.7 1.9"/>
<path d="M1294.0 379.4L1295.6 379.2L1297.1 379.1L1298.7 378.9L1300.2 378.8L1301.8 378.6L1303.4 378.5L1304.9 378.3L1306.5 378.2L1308.0 378.0L1309.6 377.8L1311.1 377.7L1312.7 377.5L1314.3 377.3L1315.8 377.1L1317.4 376.9L1318.9 376.7L1320.5 376.6L1322.1 376.4L1323.6 376.2L1325.2 376.0L1326.7 375.8L1328.3 375.6L1329.8 375.5L1331.4 375.3L1333.0 375.2L1334.5 375.0L1336.1 374.9L1337.6 374.8L1339.2 374.7L1340.8 374.5L1342.3 374.4L1343.9 374.3L1345.4 374.2L1347.0 374.0L1348.5 373.9L1350.1 373.7L1351.7 373.6L1353.2 373.4L1354.8 373.2L1356.3 372.9L1357.9 372.7L1359.5 372.4L1361.0 372.1L1362.6 371.8L1364.1 371.4L1365.7 371.1L1367.3 370.8L1368.8 370.4L1370.4 370.0L1371.9 369.7L1373.5 369.3L1375.0 368.9L1376.6 368.5L1378.2 368.0L1379.7 367.6L1381.3 367.1L1382.8 366.6L1384.4 366.1L1386.0 365.6L1387.5 365.0L1389.1 364.4L1390.6 363.8L1392.2 363.1L1393.7 362.4L1395.3 361.7L1396.9 361.0L1398.4 360.2L1400.0 359.5L1401.5 358.7L1403.1 357.9L1404.7 357.0L1406.2 356.2L1407.8 355.3L1409.3 354.3L1410.9 353.4L1412.4 352.3L1414.0 351.3L1415.6 350.2L1417.1 348.9L1418.7 347.7L1420.2 346.3L1421.8 344.9L1423.4 343.5L1424.9 342.0L1426.5 340.5L1428.0 339.0L1429.6 337.4L1431.2 335.8L1432.7 334.3L1434.3 332.6L1435.8 330.9L1437.4 329.2L1438.9 327.5L1440.5 325.7L1442.1 323.9L1443.6 322.1L1445.2 320.3L1446.7 318.5L1448.3 316.7L1449.9 314.8L1451.4 312.9L1453.0 311.0L1454.5 309.0L1456.1 307.0L1457.6 305.1L1459.2 303.2L1460.8 301.3L1462.3 299.5L1463.9 297.8L1465.4 296.2L1467.0 294.6L1468.6 293.0L1470.1 291.4L1471.7 289.9L1473.2 288.5L1474.8 287.1L1476.3 285.9L1477.9 284.7L1479.5 283.6L1481.0 282.6L1482.6 281.6L1484.1 280.6L1485.7 279.7L1487.3 278.8L1488.8 278.0L1490.4 277.3L1491.9 276.5L1493.5 275.9L1495.1 275.3L1496.6 274.8L1498.2 274.2L1499.7 273.8L1501.3 273.3L1502.8 272.9L1504.4 272.5L1506.0 272.1L1507.5 271.7L1509.1 271.3L1510.6 271.0L1512.2 270.6L1513.8 270.2L1515.3 269.9L1516.9 269.5L1518.4 269.2L1520.0 268.9L1521.5 268.6L1523.1 268.3L1524.7 268.0L1526.2 267.8L1527.8 267.5L1529.3 267.3L1530.9 267.1L1532.5 266.9L1534.0 266.8L1535.6 266.6L1537.1 266.4L1538.7 266.3L1540.2 266.2L1541.8 266.1L1543.4 265.9L1544.9 265.8L1546.5 265.7L1548.0 265.6L1549.6 265.5L1551.2 265.4L1552.7 265.4L1554.3 265.3L1555.8 265.2L1557.4 265.1L1558.9 265.0L1560.5 265.0L1562.1 264.9L1563.6 264.9L1565.2 264.8L1566.7 264.8L1568.3 264.7L1569.9 264.7L1571.4 264.6L1573.0 264.6L1574.5 264.5L1576.1 264.5L1577.7 264.4L1579.2 264.4L1580.8 264.3L1582.3 264.2L1583.9 264.2L1585.4 264.1L1587.0 264.0L1588.6 264.0L1590.1 263.9L1591.7 263.8L1593.2 263.7L1594.8 263.6L1596.4 263.5L1597.9 263.4L1599.5 263.4L1601.0 263.3L1602.6 263.2L1604.1 263.1L1605.7 263.0L1607.3 262.9L1608.8 262.8L1610.4 262.7L1611.9 262.7L1613.5 262.6L1615.1 262.5L1616.6 262.4L1618.2 262.3L1619.7 262.3L1621.3 262.2L1622.8 262.1L1624.4 262.0L1626.0 262.0L1627.5 261.9L1629.1 261.8L1630.6 261.7L1632.2 261.7L1633.8 261.6L1635.3 261.5L1636.9 261.5L1638.4 261.4L1640.0 261.3L1641.6 261.3L1643.1 261.2L1644.7 261.1L1646.2 261.1L1647.8 261.0L1649.3 261.0L1650.9 260.9L1652.5 260.9L1654.0 260.8L1655.6 260.8L1657.1 260.8L1658.7 260.7L1660.3 260.7L1661.8 260.6L1663.4 260.6L1664.9 260.6L1666.5 260.5L1668.0 260.5L1669.6 260.4L1671.2 260.4L1672.7 260.4L1674.3 260.3L1675.8 260.3L1677.4 260.3L1679.0 260.2L1680.5 260.2L1682.1 260.2L1683.6 260.1L1685.2 260.1L1686.7 260.1L1688.3 260.0L1689.9 260.0L1691.4 260.0L1693.0 259.9L1694.5 259.9L1696.1 259.9L1697.7 259.9L1699.2 259.8L1700.8 259.8L1702.3 259.7L1703.9 259.7L1705.5 259.7L1707.0 259.6L1708.6 259.6L1710.1 259.6L1711.7 259.6L1713.2 259.5L1714.8 259.5L1716.4 259.5L1717.9 259.4L1719.5 259.4L1721.0 259.4L1722.6 259.3L1724.2 259.3L1725.7 259.3L1727.3 259.2L1728.8 259.2L1730.4 259.2L1731.9 259.1L1733.5 259.1L1735.1 259.1L1736.6 259.0L1738.2 259.0L1739.7 259.0L1741.3 259.0L1742.9 258.9L1744.4 258.9L1746.0 258.9L1747.5 258.8L1749.1 258.8L1750.6 258.8L1752.2 258.7L1753.8 258.7L1755.3 258.7L1756.9 258.7L1758.4 258.6L1760.0 258.6" fill="none" stroke="#0000cc" stroke-width="2.3" stroke-dasharray="2.7 1.9"/>
<path d="M1362.9 345.3V350.9M1359.9 345.3h6M1359.9 350.9h6M1371.7 334.4V340.8M1368.7 334.4h6M1368.7 340.8h6M1381.2 313.8V321.8M1378.2 313.8h6M1378.2 321.8h6M1388.2 294.2V303.8M1385.2 294.2h6M1385.2 303.8h6M1395.7 268.4V280.0M1392.7 268.4h6M1392.7 280.0h6M1401.4 249.6V266.4M1398.4 249.6h6M1398.4 266.4h6M1405.7 227.6V246.8M1402.7 227.6h6M1402.7 246.8h6M1408.8 210.0V231.2M1405.8 210.0h6M1405.8 231.2h6M1416.6 184.5V208.7M1413.6 184.5h6M1413.6 208.7h6M1423.9 142.7V171.5M1420.9 142.7h6M1420.9 171.5h6M1435.7 93.2V127.6M1432.7 93.2h6M1432.7 127.6h6M1438.3 85.3V120.7M1435.3 85.3h6M1435.3 120.7h6M1443.8 59.3V97.7M1440.8 59.3h6M1440.8 97.7h6M1449.0 55.6V94.4M1446.0 55.6h6M1446.0 94.4h6M1453.0 55.0V93.8M1450.0 55.0h6M1450.0 93.8h6M1458.4 58.6V97.0M1455.4 58.6h6M1455.4 97.0h6M1464.3 73.1V109.9M1461.3 73.1h6M1461.3 109.9h6M1467.8 85.3V120.7M1464.8 85.3h6M1464.8 120.7h6" stroke="#ff7070" stroke-width="1" fill="none"/>
<path d="M1368.6 342.1V347.9M1365.6 342.1h6M1365.6 347.9h6M1372.1 327.5V334.5M1369.1 327.5h6M1369.1 334.5h6M1376.0 325.3V332.5M1373.0 325.3h6M1373.0 332.5h6M1379.5 333.9V340.5M1376.5 333.9h6M1376.5 340.5h6M1383.3 304.1V312.9M1380.3 304.1h6M1380.3 312.9h6M1386.7 285.3V295.5M1383.7 285.3h6M1383.7 295.5h6M1391.0 318.1V325.9M1388.0 318.1h6M1388.0 325.9h6M1395.2 279.7V290.3M1392.2 279.7h6M1392.2 290.3h6M1399.5 275.0V286.0M1396.5 275.0h6M1396.5 286.0h6M1402.7 272.2V286.4M1399.7 272.2h6M1399.7 286.4h6M1406.0 233.1V251.7M1403.0 233.1h6M1403.0 251.7h6M1410.0 184.4V208.6M1407.0 184.4h6M1407.0 208.6h6M1413.1 208.6V230.0M1410.1 208.6h6M1410.1 230.0h6M1417.5 196.1V218.9M1414.5 196.1h6M1414.5 218.9h6M1420.4 169.8V195.6M1417.4 169.8h6M1417.4 195.6h6M1424.6 158.7V185.7M1421.6 158.7h6M1421.6 185.7h6M1428.8 151.2V179.2M1425.8 151.2h6M1425.8 179.2h6M1431.6 136.0V165.6M1428.6 136.0h6M1428.6 165.6h6M1435.6 112.7V144.9M1432.6 112.7h6M1432.6 144.9h6M1439.7 90.1V124.9M1436.7 90.1h6M1436.7 124.9h6M1443.2 65.5V103.1M1440.2 65.5h6M1440.2 103.1h6M1447.1 49.8V89.2M1444.1 49.8h6M1444.1 89.2h6M1450.5 58.2V96.6M1447.5 58.2h6M1447.5 96.6h6M1453.8 67.5V104.9M1450.8 67.5h6M1450.8 104.9h6M1458.4 66.9V104.3M1455.4 66.9h6M1455.4 104.3h6M1461.7 86.9V122.1M1458.7 86.9h6M1458.7 122.1h6M1465.6 111.2V143.6M1462.6 111.2h6M1462.6 143.6h6M1469.4 132.7V162.7M1466.4 132.7h6M1466.4 162.7h6M1472.9 156.4V183.8M1469.9 156.4h6M1469.9 183.8h6M1477.1 177.0V202.0M1474.1 177.0h6M1474.1 202.0h6M1479.7 207.6V229.2M1476.7 207.6h6M1476.7 229.2h6M1484.8 226.6V236.6M1481.8 226.6h6M1481.8 236.6h6M1490.8 262.5V272.5M1487.8 262.5h6M1487.8 272.5h6M1495.0 269.0V279.0M1492.0 269.0h6M1492.0 279.0h6M1499.4 283.9V293.9M1496.4 283.9h6M1496.4 293.9h6M1503.2 289.0V299.0M1500.2 289.0h6M1500.2 299.0h6M1507.0 293.0V303.0M1504.0 293.0h6M1504.0 303.0h6M1510.5 300.0V310.0M1507.5 300.0h6M1507.5 310.0h6M1514.2 305.0V315.0M1511.2 305.0h6M1511.2 315.0h6M1518.6 312.0V322.0M1515.6 312.0h6M1515.6 322.0h6M1522.5 317.5V327.5M1519.5 317.5h6M1519.5 327.5h6M1526.4 323.0V333.0M1523.4 323.0h6M1523.4 333.0h6M1530.5 327.5V337.5M1527.5 327.5h6M1527.5 337.5h6M1535.2 330.5V340.5M1532.2 330.5h6M1532.2 340.5h6M1539.5 333.5V343.5M1536.5 333.5h6M1536.5 343.5h6M1543.9 336.6V346.6M1540.9 336.6h6M1540.9 346.6h6M1548.3 338.8V348.8M1545.3 338.8h6M1545.3 348.8h6M1552.6 340.9V350.9M1549.6 340.9h6M1549.6 350.9h6M1557.0 347.5V357.5M1554.0 347.5h6M1554.0 357.5h6M1561.4 350.5V360.5M1558.4 350.5h6M1558.4 360.5h6M1565.7 351.3V361.3M1562.7 351.3h6M1562.7 361.3h6M1570.1 351.2V361.2M1567.1 351.2h6M1567.1 361.2h6M1574.5 349.6V359.6M1571.5 349.6h6M1571.5 359.6h6" stroke="#7070ff" stroke-width="1" fill="none"/>
<polyline points="1343.3,361.6 1353.3,355.9 1362.9,348.1 1371.7,337.6 1381.2,317.8 1388.2,299 1395.7,274.2 1401.4,258 1405.7,237.2 1408.8,220.6 1416.6,196.6 1423.9,157.1 1435.7,110.4 1438.3,103 1443.8,78.5 1449,75 1453,74.4 1458.4,77.8 1464.3,91.5 1467.8,103 1488.5,195.5 1505.9,263 1533.4,311 1551.7,335.9 1591.5,358 1606,361.2 1626.6,363.4 1648,364 1663.8,365 1680,365.8 1723.5,370.5 1759,372.5" fill="none" stroke="#ff0a0a" stroke-width="2.6" stroke-linejoin="round"/>
<polyline points="1368.6,345 1372.1,331 1376,328.9 1379.5,337.2 1383.3,308.5 1386.7,290.4 1391,322 1395.2,285 1399.5,280.5 1402.7,279.3 1406,242.4 1410,196.5 1413.1,219.3 1417.5,207.5 1420.4,182.7 1424.6,172.2 1428.8,165.2 1431.6,150.8 1435.6,128.8 1439.7,107.5 1443.2,84.3 1447.1,69.5 1450.5,77.4 1453.8,86.2 1458.4,85.6 1461.7,104.5 1465.6,127.4 1469.4,147.7 1472.9,170.1 1477.1,189.5 1479.7,218.4 1484.8,231.6 1490.8,267.5 1495,274 1499.4,288.9 1503.2,294 1507,298 1510.5,305 1514.2,310 1518.6,317 1522.5,322.5 1526.4,328 1530.5,332.5 1535.2,335.5 1539.5,338.5 1543.9,341.6 1548.3,343.8 1552.6,345.9 1557,352.5 1561.4,355.5 1565.7,356.3 1570.1,356.2 1574.5,354.6 1611.5,360.1 1648.7,365.7 1686,370.3 1723,372.7 1760.3,374.8" fill="none" stroke="#0000cc" stroke-width="2.6" stroke-linejoin="round"/>
<g fill="#ff0a0a"><circle cx="1343.3" cy="361.6" r="3.9"/><circle cx="1353.3" cy="355.9" r="3.9"/><circle cx="1362.9" cy="348.1" r="3.9"/><circle cx="1371.7" cy="337.6" r="3.9"/><circle cx="1381.2" cy="317.8" r="3.9"/><circle cx="1388.2" cy="299" r="3.9"/><circle cx="1395.7" cy="274.2" r="3.9"/><circle cx="1401.4" cy="258" r="3.9"/><circle cx="1405.7" cy="237.2" r="3.9"/><circle cx="1408.8" cy="220.6" r="3.9"/><circle cx="1416.6" cy="196.6" r="3.9"/><circle cx="1423.9" cy="157.1" r="3.9"/><circle cx="1435.7" cy="110.4" r="3.9"/><circle cx="1438.3" cy="103" r="3.9"/><circle cx="1443.8" cy="78.5" r="3.9"/><circle cx="1449" cy="75" r="3.9"/><circle cx="1453" cy="74.4" r="3.9"/><circle cx="1458.4" cy="77.8" r="3.9"/><circle cx="1464.3" cy="91.5" r="3.9"/><circle cx="1467.8" cy="103" r="3.9"/><circle cx="1488.5" cy="195.5" r="3.9"/><circle cx="1505.9" cy="263" r="3.9"/><circle cx="1533.4" cy="311" r="3.9"/><circle cx="1551.7" cy="335.9" r="3.9"/><circle cx="1591.5" cy="358" r="3.9"/><circle cx="1606" cy="361.2" r="3.9"/><circle cx="1626.6" cy="363.4" r="3.9"/><circle cx="1648" cy="364" r="3.9"/><circle cx="1663.8" cy="365" r="3.9"/><circle cx="1680" cy="365.8" r="3.9"/><circle cx="1723.5" cy="370.5" r="3.9"/><circle cx="1759" cy="372.5" r="3.9"/></g>
<g fill="#0000cc"><rect x="1364.6" y="341.0" width="8" height="8"/><rect x="1368.1" y="327.0" width="8" height="8"/><rect x="1372.0" y="324.9" width="8" height="8"/><rect x="1375.5" y="333.2" width="8" height="8"/><rect x="1379.3" y="304.5" width="8" height="8"/><rect x="1382.7" y="286.4" width="8" height="8"/><rect x="1387.0" y="318.0" width="8" height="8"/><rect x="1391.2" y="281.0" width="8" height="8"/><rect x="1395.5" y="276.5" width="8" height="8"/><rect x="1398.7" y="275.3" width="8" height="8"/><rect x="1402.0" y="238.4" width="8" height="8"/><rect x="1406.0" y="192.5" width="8" height="8"/><rect x="1409.1" y="215.3" width="8" height="8"/><rect x="1413.5" y="203.5" width="8" height="8"/><rect x="1416.4" y="178.7" width="8" height="8"/><rect x="1420.6" y="168.2" width="8" height="8"/><rect x="1424.8" y="161.2" width="8" height="8"/><rect x="1427.6" y="146.8" width="8" height="8"/><rect x="1431.6" y="124.8" width="8" height="8"/><rect x="1435.7" y="103.5" width="8" height="8"/><rect x="1439.2" y="80.3" width="8" height="8"/><rect x="1443.1" y="65.5" width="8" height="8"/><rect x="1446.5" y="73.4" width="8" height="8"/><rect x="1449.8" y="82.2" width="8" height="8"/><rect x="1454.4" y="81.6" width="8" height="8"/><rect x="1457.7" y="100.5" width="8" height="8"/><rect x="1461.6" y="123.4" width="8" height="8"/><rect x="1465.4" y="143.7" width="8" height="8"/><rect x="1468.9" y="166.1" width="8" height="8"/><rect x="1473.1" y="185.5" width="8" height="8"/><rect x="1475.7" y="214.4" width="8" height="8"/><rect x="1480.8" y="227.6" width="8" height="8"/><rect x="1486.8" y="263.5" width="8" height="8"/><rect x="1491.0" y="270.0" width="8" height="8"/><rect x="1495.4" y="284.9" width="8" height="8"/><rect x="1499.2" y="290.0" width="8" height="8"/><rect x="1503.0" y="294.0" width="8" height="8"/><rect x="1506.5" y="301.0" width="8" height="8"/><rect x="1510.2" y="306.0" width="8" height="8"/><rect x="1514.6" y="313.0" width="8" height="8"/><rect x="1518.5" y="318.5" width="8" height="8"/><rect x="1522.4" y="324.0" width="8" height="8"/><rect x="1526.5" y="328.5" width="8" height="8"/><rect x="1531.2" y="331.5" width="8" height="8"/><rect x="1535.5" y="334.5" width="8" height="8"/><rect x="1539.9" y="337.6" width="8" height="8"/><rect x="1544.3" y="339.8" width="8" height="8"/><rect x="1548.6" y="341.9" width="8" height="8"/><rect x="1553.0" y="348.5" width="8" height="8"/><rect x="1557.4" y="351.5" width="8" height="8"/><rect x="1561.7" y="352.3" width="8" height="8"/><rect x="1566.1" y="352.2" width="8" height="8"/><rect x="1570.5" y="350.6" width="8" height="8"/><rect x="1607.5" y="356.1" width="8" height="8"/><rect x="1644.7" y="361.7" width="8" height="8"/><rect x="1682.0" y="366.3" width="8" height="8"/><rect x="1719.0" y="368.7" width="8" height="8"/><rect x="1756.3" y="370.8" width="8" height="8"/></g>
<rect x="1293.5" y="40.5" width="467.0" height="341.0" fill="none" stroke="#8a8a8a" stroke-width="1"/>
<path d="M1294.5 381.5v-7.2M1294.5 40.5v7.2M1312.5 381.5v-4.2M1312.5 40.5v4.2M1331.5 381.5v-4.2M1331.5 40.5v4.2M1350.5 381.5v-4.2M1350.5 40.5v4.2M1368.5 381.5v-4.2M1368.5 40.5v4.2M1387.5 381.5v-7.2M1387.5 40.5v7.2M1406.5 381.5v-4.2M1406.5 40.5v4.2M1424.5 381.5v-4.2M1424.5 40.5v4.2M1443.5 381.5v-4.2M1443.5 40.5v4.2M1462.5 381.5v-4.2M1462.5 40.5v4.2M1480.5 381.5v-7.2M1480.5 40.5v7.2M1499.5 381.5v-4.2M1499.5 40.5v4.2M1518.5 381.5v-4.2M1518.5 40.5v4.2M1537.5 381.5v-4.2M1537.5 40.5v4.2M1555.5 381.5v-4.2M1555.5 40.5v4.2M1574.5 381.5v-7.2M1574.5 40.5v7.2M1593.5 381.5v-4.2M1593.5 40.5v4.2M1611.5 381.5v-4.2M1611.5 40.5v4.2M1630.5 381.5v-4.2M1630.5 40.5v4.2M1649.5 381.5v-4.2M1649.5 40.5v4.2M1667.5 381.5v-7.2M1667.5 40.5v7.2M1686.5 381.5v-4.2M1686.5 40.5v4.2M1705.5 381.5v-4.2M1705.5 40.5v4.2M1723.5 381.5v-4.2M1723.5 40.5v4.2M1742.5 381.5v-4.2M1742.5 40.5v4.2M1761.5 381.5v-7.2M1761.5 40.5v7.2M1293.5 381.5h7.2M1760.5 381.5h-7.2M1293.5 369.5h4.2M1760.5 369.5h-4.2M1293.5 356.5h4.2M1760.5 356.5h-4.2M1293.5 344.5h4.2M1760.5 344.5h-4.2M1293.5 332.5h4.2M1760.5 332.5h-4.2M1293.5 319.5h7.2M1760.5 319.5h-7.2M1293.5 307.5h4.2M1760.5 307.5h-4.2M1293.5 294.5h4.2M1760.5 294.5h-4.2M1293.5 282.5h4.2M1760.5 282.5h-4.2M1293.5 270.5h4.2M1760.5 270.5h-4.2M1293.5 257.5h7.2M1760.5 257.5h-7.2M1293.5 245.5h4.2M1760.5 245.5h-4.2M1293.5 232.5h4.2M1760.5 232.5h-4.2M1293.5 220.5h4.2M1760.5 220.5h-4.2M1293.5 208.5h4.2M1760.5 208.5h-4.2M1293.5 195.5h7.2M1760.5 195.5h-7.2M1293.5 183.5h4.2M1760.5 183.5h-4.2M1293.5 170.5h4.2M1760.5 170.5h-4.2M1293.5 158.5h4.2M1760.5 158.5h-4.2M1293.5 146.5h4.2M1760.5 146.5h-4.2M1293.5 133.5h7.2M1760.5 133.5h-7.2M1293.5 121.5h4.2M1760.5 121.5h-4.2M1293.5 108.5h4.2M1760.5 108.5h-4.2M1293.5 96.5h4.2M1760.5 96.5h-4.2M1293.5 84.5h4.2M1760.5 84.5h-4.2M1293.5 71.5h7.2M1760.5 71.5h-7.2M1293.5 59.5h4.2M1760.5 59.5h-4.2M1293.5 46.5h4.2M1760.5 46.5h-4.2" stroke="#8a8a8a" stroke-width="1.2" fill="none"/>
<g font-family='"Liberation Serif", "DejaVu Serif", serif' font-size="25" fill="#000"><text x="1294.0" y="409.6" text-anchor="middle" textLength="12.5" lengthAdjust="spacingAndGlyphs">5</text><text x="1387.5" y="409.6" text-anchor="middle" textLength="24.5" lengthAdjust="spacingAndGlyphs">10</text><text x="1480.9" y="409.6" text-anchor="middle" textLength="24.5" lengthAdjust="spacingAndGlyphs">15</text><text x="1574.3" y="409.6" text-anchor="middle" textLength="24.5" lengthAdjust="spacingAndGlyphs">20</text><text x="1667.8" y="409.6" text-anchor="middle" textLength="24.5" lengthAdjust="spacingAndGlyphs">25</text><text x="1761.2" y="409.6" text-anchor="middle" textLength="24.5" lengthAdjust="spacingAndGlyphs">30</text><text x="1291.8" y="324.5" text-anchor="end" textLength="24.5" lengthAdjust="spacingAndGlyphs">10</text><text x="1291.8" y="262.5" text-anchor="end" textLength="24.5" lengthAdjust="spacingAndGlyphs">20</text><text x="1291.8" y="200.5" text-anchor="end" textLength="24.5" lengthAdjust="spacingAndGlyphs">30</text><text x="1291.8" y="138.5" text-anchor="end" textLength="24.5" lengthAdjust="spacingAndGlyphs">40</text><text x="1291.8" y="76.5" text-anchor="end" textLength="24.5" lengthAdjust="spacingAndGlyphs">50</text></g>
<text x="1492.5" y="439.6" font-family='"Liberation Serif", "DejaVu Serif", serif' font-size="30" font-style="italic">E</text>
<text x="1510.4" y="453.5" font-family='"Liberation Serif", "DejaVu Serif", serif' font-size="20">γ</text>
<text x="1526" y="439.6" textLength="75" lengthAdjust="spacingAndGlyphs" font-family='"Liberation Serif", "DejaVu Serif", serif' font-size="31">[MeV]</text>
<text transform="translate(1232,366.3) rotate(-90)" textLength="306.5" lengthAdjust="spacingAndGlyphs" font-family='"Liberation Serif", "DejaVu Serif", serif' font-size="32"><tspan font-style="italic">f</tspan><tspan font-size="21" dy="13.8" dx="1">E1</tspan><tspan dy="-13.8"> [mb/MeV]; α</tspan><tspan font-size="21" dy="13.8" dx="1">D</tspan><tspan dy="-13.8"> [fm</tspan><tspan font-size="21" dy="-13.5">3</tspan><tspan dy="13.5">/e</tspan><tspan font-size="21" dy="-13.5">2</tspan><tspan dy="13.5">]</tspan></text>
<text x="1366" y="181" font-family='"DejaVu Serif", serif' font-size="27.5" font-style="italic">f</text>
<text x="1377.4" y="199" font-family='"Liberation Serif", "DejaVu Serif", serif' font-size="18">E1</text>
<text x="1605" y="225.2" textLength="18.5" lengthAdjust="spacingAndGlyphs" font-family='"DejaVu Serif", serif' font-size="26.5">α</text>
<text x="1624.5" y="239" font-family='"Liberation Serif", "DejaVu Serif", serif' font-size="17.5">D</text>
<text x="1676.8" y="235.9" font-family='"Liberation Serif", "DejaVu Serif", serif' font-size="28" fill="#ff0a0a"><tspan font-size="20.5" dy="-14.400000000000006">209</tspan><tspan dy="14.400000000000006">Bi</tspan></text>
<text x="1679" y="295.7" font-family='"Liberation Serif", "DejaVu Serif", serif' font-size="28" fill="#0000cc"><tspan font-size="20.5" dy="-14.399999999999977">208</tspan><tspan dy="14.399999999999977">Pb</tspan></text>
<text x="1539.5" y="320.6" font-family='"Liberation Serif", "DejaVu Serif", serif' font-size="28" fill="#ff0a0a"><tspan font-size="20.5" dy="-16.100000000000023">209</tspan><tspan dy="16.100000000000023">Bi</tspan></text>
<text x="1466" y="360.9" font-family='"Liberation Serif", "DejaVu Serif", serif' font-size="28" fill="#0000cc"><tspan font-size="20.5" dy="-14.699999999999989">208</tspan><tspan dy="14.699999999999989">Pb</tspan></text>
<text x="1533.4" y="22.9" text-anchor="middle" font-family='"Liberation Serif", "DejaVu Serif", serif' font-size="33" fill="#1a1010">(C)</text>
</svg></body></html>
